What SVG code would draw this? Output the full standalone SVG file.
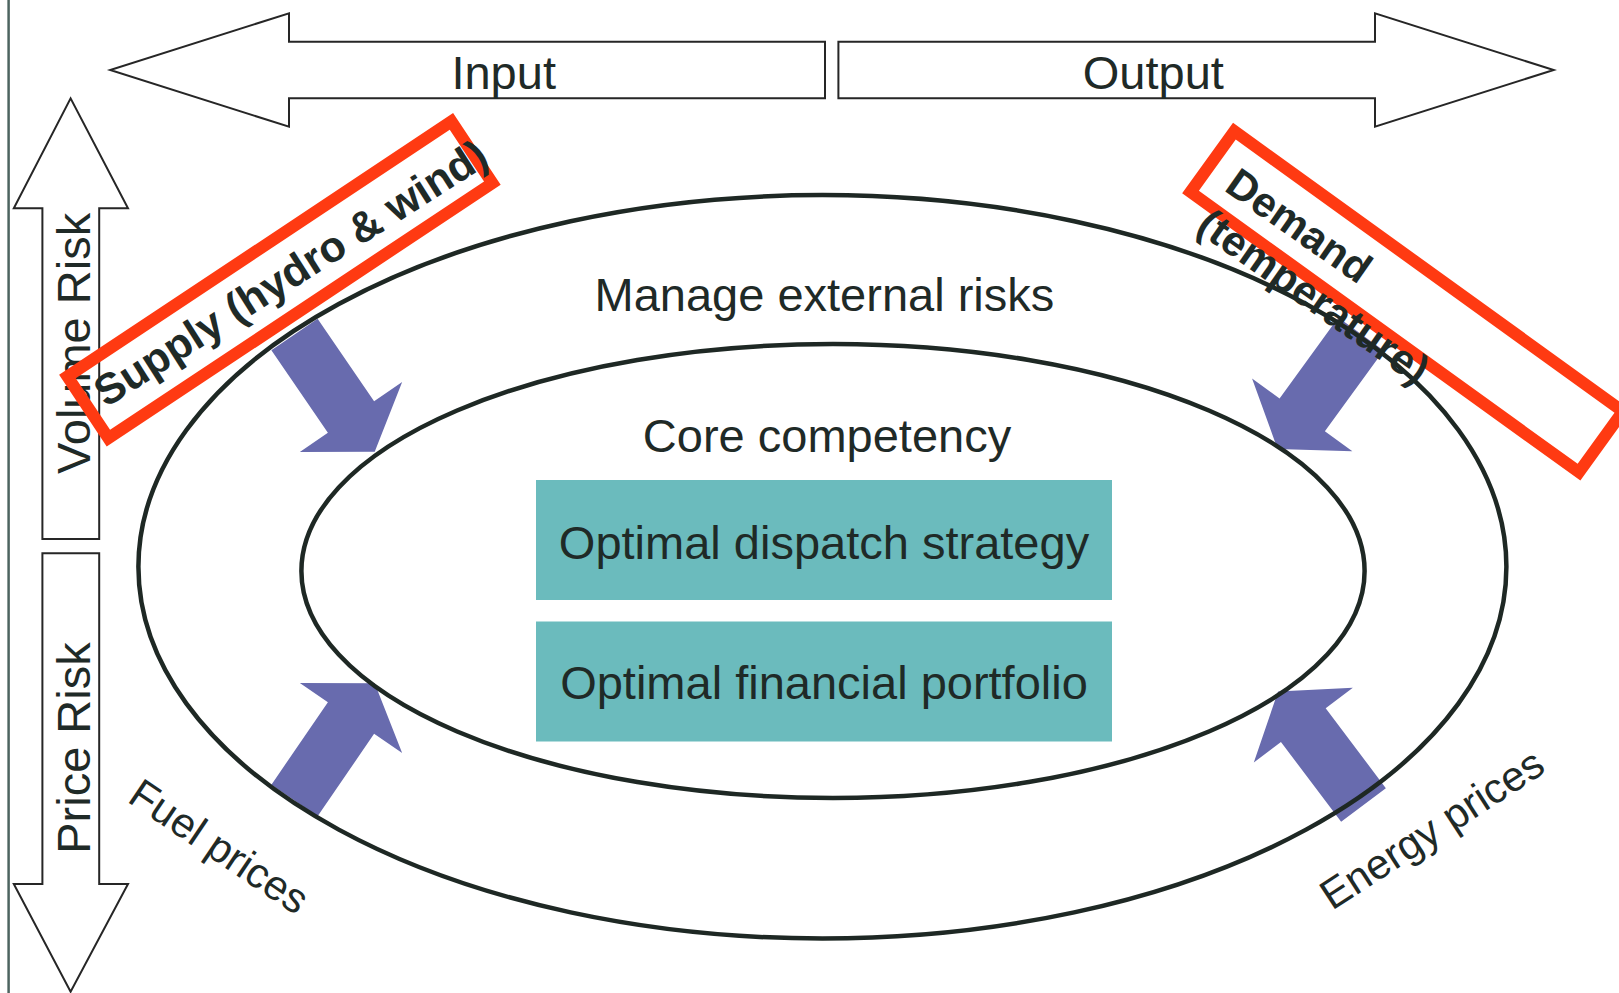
<svg xmlns="http://www.w3.org/2000/svg" width="1619" height="993" viewBox="0 0 1619 993">
<style>
.t{font-family:"Liberation Sans",Arial,sans-serif;fill:#1f2a27}
.b{font-weight:bold}
.hollow{fill:#fff;stroke:#262626;stroke-width:2}
.purple{fill:#686bae}
.red{fill:none;stroke:#ff3a12;stroke-width:12}
.ell{fill:none;stroke:#1e2824;stroke-width:4.5}
.teal{fill:#6bbbbd}
</style>
<defs>
<polygon id="fat" points="0,-28 100,-28 100,-62 142,0 100,62 100,28 0,28"/>
</defs>
<rect width="1619" height="993" fill="#fff"/>
<line x1="8.6" y1="0" x2="8.6" y2="993" stroke="#4d6460" stroke-width="2.5"/>

<g id="input-arrow">
<polygon class="hollow" points="825,41.7 289,41.7 289,13.3 110.2,70 289,126.7 289,98.3 825,98.3"/>
<text class="t" x="503.7" y="88.5" font-size="47" text-anchor="middle">Input</text>
</g>
<g id="output-arrow">
<polygon class="hollow" points="838.4,41.7 1375,41.7 1375,13.3 1553.7,70 1375,126.7 1375,98.3 838.4,98.3"/>
<text class="t" x="1153.3" y="88.5" font-size="47" text-anchor="middle">Output</text>
</g>
<g id="volume-risk">
<polygon class="hollow" points="42.4,539 42.4,208.3 13.8,208.3 70.6,98.3 128,208.3 99.2,208.3 99.2,539"/>
<text class="t" transform="translate(90,343.4) rotate(-90)" font-size="47" text-anchor="middle">Volume Risk</text>
</g>
<g id="price-risk">
<polygon class="hollow" points="42.4,553.3 99.2,553.3 99.2,884 128,884 70.6,991.7 13.8,884 42.4,884"/>
<text class="t" transform="translate(90,748) rotate(-90)" font-size="47" text-anchor="middle">Price Risk</text>
</g>

<g id="connectors">
<use href="#fat" class="purple" transform="translate(294.5,334.5) rotate(55.6)"/>
<use href="#fat" class="purple" transform="translate(294.5,800.5) rotate(-55.6)"/>
<use href="#fat" class="purple" transform="translate(1361,334) rotate(126)"/>
<use href="#fat" class="purple" transform="translate(1363.5,805) rotate(-127)"/>
</g>

<g id="external-risks">
<ellipse class="ell" cx="822.4" cy="566.8" rx="684" ry="371.7"/>
<text class="t" x="824.4" y="311" font-size="47" text-anchor="middle">Manage external risks</text>
</g>
<g id="core-competency">
<ellipse class="ell" cx="833" cy="571" rx="531.6" ry="227"/>
<text class="t" x="827" y="452" font-size="47" text-anchor="middle">Core competency</text>
</g>
<g id="dispatch">
<rect class="teal" x="536" y="480" width="576" height="120"/>
<text class="t" x="824" y="558.6" font-size="47" text-anchor="middle">Optimal dispatch strategy</text>
</g>
<g id="portfolio">
<rect class="teal" x="536" y="621.5" width="576" height="120"/>
<text class="t" x="824" y="699" font-size="47" text-anchor="middle">Optimal financial portfolio</text>
</g>

<g id="fuel-prices">
<text class="t" transform="translate(126,801) rotate(34)" font-size="42">Fuel prices</text>
</g>
<g id="energy-prices">
<text class="t" transform="translate(1332,911) rotate(-33)" font-size="42">Energy prices</text>
</g>

<g id="supply">
<rect class="red" transform="translate(279.9,279.8) rotate(-33.6)" x="-230.5" y="-37" width="461" height="74"/>
<text class="t b" transform="translate(106,408) rotate(-32.5)" font-size="43">Supply (hydro &amp; wind)</text>
</g>
<g id="demand">
<rect class="red" transform="translate(1406.7,301.7) rotate(35.8)" x="-239.5" y="-37.5" width="479" height="75"/>
<text class="t b" transform="translate(1223,190) rotate(35)" font-size="42"><tspan x="0" y="0">Demand</tspan><tspan x="0" y="49.5">(temperature)</tspan></text>
</g>
</svg>
